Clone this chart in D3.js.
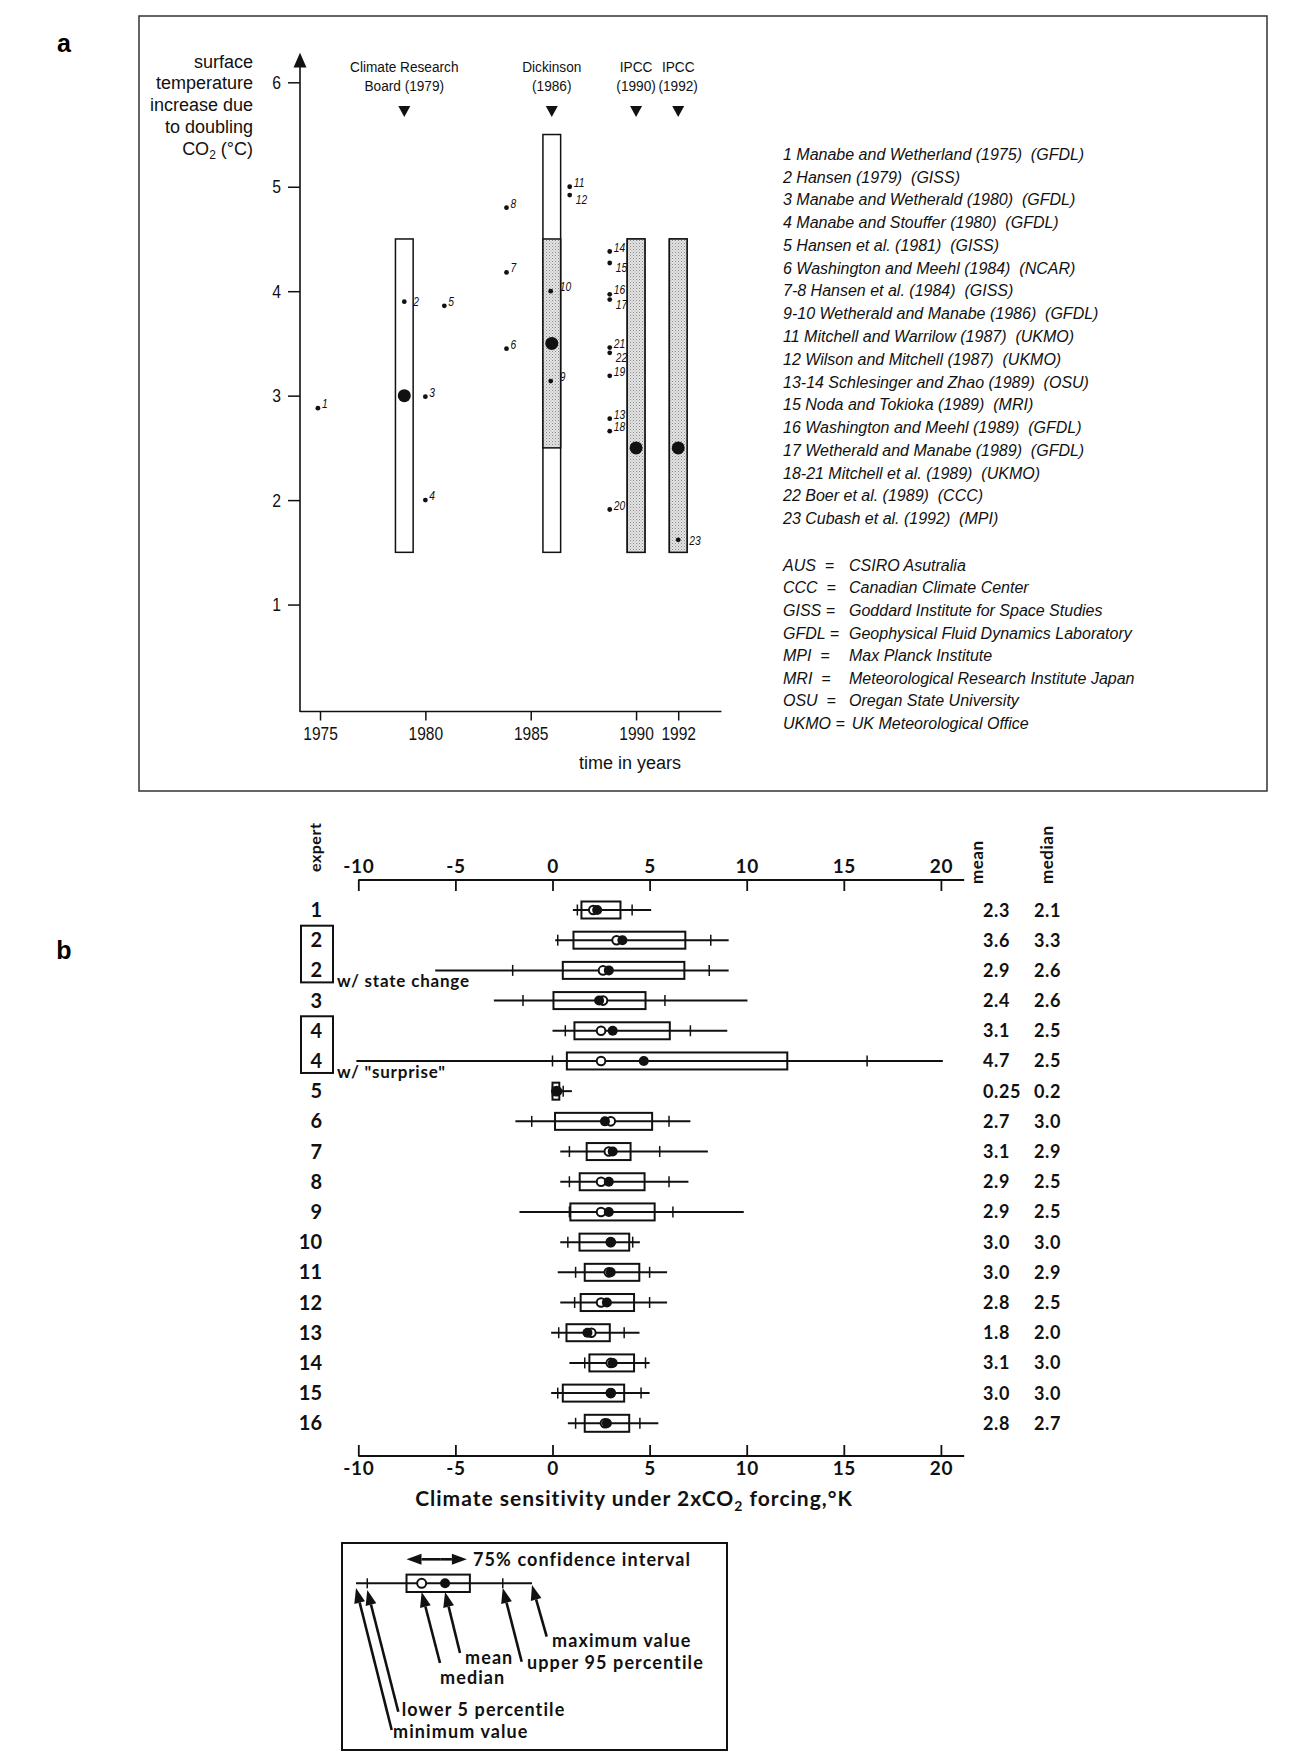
<!DOCTYPE html>
<html><head><meta charset="utf-8">
<script src="https://cdn.jsdelivr.net/npm/d3@7"></script>
<style>
body{margin:0;background:#fff;}
svg{display:block;}
</style></head><body>
<svg id="chart" width="1297" height="1758"></svg>
<script>
// ---------- Panel a data ----------
const assessYears = [1979, 1986, 1990, 1992];
const assessLine1 = ["Climate Research", "Dickinson", "IPCC", "IPCC"];
const assessLine2 = ["Board (1979)", "(1986)", "(1990)", "(1992)"];
const rangeLow = [1.5, 1.5, 1.5, 1.5];
const rangeHigh = [4.5, 5.5, 4.5, 4.5];
const shadedLow = [null, 2.5, 1.5, 1.5];
const shadedHigh = [null, 4.5, 4.5, 4.5];
const bestEstimate = [3.0, 3.5, 2.5, 2.5];

const modelIds = ["1","2","3","4","5","6","7","8","9","10","11","12","13","14","15","16","17","18","19","20","21","22","23"];
const modelYears = [1974.9,1979.0,1980.0,1980.0,1980.9,1983.85,1983.85,1983.85,1985.95,1985.95,1986.85,1986.85,1988.75,1988.75,1988.75,1988.75,1988.75,1988.75,1988.75,1988.75,1988.75,1988.75,1992.0];
const modelValues = [2.88,3.90,2.99,2.0,3.86,3.45,4.18,4.80,3.14,4.0,5.0,4.92,2.78,4.38,4.27,3.97,3.92,2.66,3.19,1.91,3.46,3.41,1.62];
const modelLabelPos = ["sup","right","sup","sup","sup","sup","sup","sup","rightUp","rightUp","sup","sub","sup","sup","sub","sup","sub","sup","sup","sup","sup","sub","rightLow"];

const yTicksA = [1,2,3,4,5,6];
const xTicksA = [1975,1980,1985,1990,1992];

const refList = [
 "1 Manabe and Wetherland (1975)  (GFDL)",
 "2 Hansen (1979)  (GISS)",
 "3 Manabe and Wetherald (1980)  (GFDL)",
 "4 Manabe and Stouffer (1980)  (GFDL)",
 "5 Hansen et al. (1981)  (GISS)",
 "6 Washington and Meehl (1984)  (NCAR)",
 "7-8 Hansen et al. (1984)  (GISS)",
 "9-10 Wetherald and Manabe (1986)  (GFDL)",
 "11 Mitchell and Warrilow (1987)  (UKMO)",
 "12 Wilson and Mitchell (1987)  (UKMO)",
 "13-14 Schlesinger and Zhao (1989)  (OSU)",
 "15 Noda and Tokioka (1989)  (MRI)",
 "16 Washington and Meehl (1989)  (GFDL)",
 "17 Wetherald and Manabe (1989)  (GFDL)",
 "18-21 Mitchell et al. (1989)  (UKMO)",
 "22 Boer et al. (1989)  (CCC)",
 "23 Cubash et al. (1992)  (MPI)"
];
const abbrevs = ["AUS","CCC","GISS","GFDL","MPI","MRI","OSU","UKMO"];
const abbrevDefs = ["CSIRO Asutralia","Canadian Climate Center","Goddard Institute for Space Studies","Geophysical Fluid Dynamics Laboratory","Max Planck Institute","Meteorological Research Institute Japan","Oregan State University","UK Meteorological Office"];

// ---------- Panel b data ----------
const experts = ["1","2","2","3","4","4","5","6","7","8","9","10","11","12","13","14","15","16"];
const minVals  = [1.05,0.14,-6.04,-3.02,0.0,-10.1,-0.05,-1.91,0.4,0.4,-1.7,0.4,0.27,0.4,-0.07,0.87,-0.07,0.79];
const p5Vals   = [1.28,0.27,-2.05,-1.52,0.66,0.0,0.0,-1.07,0.87,0.87,0.87,0.79,1.19,1.14,0.32,1.66,0.27,1.19];
const boxLo    = [1.49,1.08,0.53,0.05,1.13,0.74,0.0,0.13,1.76,1.4,0.92,1.39,1.66,1.45,0.72,1.9,0.53,1.66];
const boxHi    = [3.5,6.84,6.79,4.79,6.04,12.09,0.35,5.13,4.02,4.74,5.26,3.95,4.47,4.2,2.95,4.2,3.69,3.95];
const p95Vals  = [4.1,8.15,8.07,5.79,7.1,16.2,0.55,6.0,5.52,6.0,6.2,4.13,5.0,5.0,3.69,4.79,4.56,4.5];
const maxVals  = [5.08,9.07,9.07,10.04,9.0,20.1,1.0,7.1,8.0,7.0,9.85,4.5,5.9,5.9,4.48,5.0,5.0,5.45];
const meanText   = ["2.3","3.6","2.9","2.4","3.1","4.7","0.25","2.7","3.1","2.9","2.9","3.0","3.0","2.8","1.8","3.1","3.0","2.8"];
const medianText = ["2.1","3.3","2.6","2.6","2.5","2.5","0.2","3.0","2.9","2.5","2.5","3.0","2.9","2.5","2.0","3.0","3.0","2.7"];
const groupBrackets = [[1,2,"w/ state change"],[4,5,"w/ \"surprise\""]];
const tickB = [-10,-5,0,5,10,15,20];

// key (legend) sample values
const keyMin=0, keyP5=0.64, keyLo=2.87, keyHi=6.47, keyMedian=3.73, keyMean=5.06, keyP95=8.34, keyMax=10;

// ---------- drawing ----------
const ink = "#111";
const ARIAL = "'Liberation Sans',Arial,Helvetica,sans-serif";
const GILL = "Lato,'Open Sans',sans-serif";
const svg = d3.select("#chart");

// simulate a condensed Helvetica by compressing the glyph run
function condense(sel, f){
  sel.each(function(){
    const L = this.getComputedTextLength();
    if (L > 0){ this.setAttribute("textLength", (L*f).toFixed(2)); this.setAttribute("lengthAdjust","spacingAndGlyphs"); }
  });
  return sel;
}

const defs = svg.append("defs");
const pat = defs.append("pattern").attr("id","stip").attr("width",3).attr("height",3).attr("patternUnits","userSpaceOnUse");
pat.append("rect").attr("width",3).attr("height",3).attr("fill","#e4e4e4");
pat.append("rect").attr("x",0).attr("y",0).attr("width",1).attr("height",1).attr("fill","#8a8a8a");
pat.append("rect").attr("x",1.5).attr("y",1.5).attr("width",1).attr("height",1).attr("fill","#a8a8a8");

// panel letters
svg.append("text").attr("x",64).attr("y",52).attr("text-anchor","middle").attr("font-family",ARIAL).attr("font-weight","bold").attr("font-size",25).text("a");
svg.append("text").attr("x",64).attr("y",959).attr("text-anchor","middle").attr("font-family",ARIAL).attr("font-weight","bold").attr("font-size",25).text("b");

// panel a frame
svg.append("rect").attr("x",139).attr("y",16).attr("width",1128).attr("height",775).attr("fill","none").attr("stroke","#333").attr("stroke-width",1.5);

const xA = d3.scaleLinear().domain([1974.05,1994.05]).range([300,721.4]);
const yA = d3.scaleLinear().domain([0,6]).range([709,82.3]);
const gA = svg.append("g");

// y axis
const gy = gA.append("g").attr("transform","translate(300,0)")
  .call(d3.axisLeft(yA).tickValues(yTicksA).tickSize(12).tickPadding(7).tickFormat(d3.format("d")));
gy.select(".domain").remove();
gy.selectAll("line").attr("stroke",ink).attr("stroke-width",1.5);
condense(gy.selectAll("text").attr("font-family",ARIAL).attr("font-size",18.5).attr("fill",ink), 0.85);
gA.append("line").attr("x1",300).attr("x2",300).attr("y1",712).attr("y2",64).attr("stroke",ink).attr("stroke-width",1.6);
gA.append("path").attr("d",`M300,52.7 L293.5,67.5 L306.5,67.5 Z`).attr("fill",ink);

// x axis
const gx = gA.append("g").attr("transform","translate(0,711.5)")
  .call(d3.axisBottom(xA).tickValues(xTicksA).tickSize(9).tickPadding(6).tickFormat(d3.format("d")));
gx.select(".domain").remove();
gx.selectAll("line").attr("stroke",ink).attr("stroke-width",1.5);
condense(gx.selectAll("text").attr("font-family",ARIAL).attr("font-size",18.5).attr("fill",ink), 0.84);
gA.append("line").attr("x1",xA.range()[0]).attr("x2",xA.range()[1]).attr("y1",711.5).attr("y2",711.5).attr("stroke",ink).attr("stroke-width",1.6);
gA.append("text").attr("x",630).attr("y",768.5).attr("text-anchor","middle").attr("font-family",ARIAL).attr("font-size",18).attr("fill",ink).text("time in years");

// y title
const yTitle = ["surface","temperature","increase due","to doubling"];
yTitle.forEach((t,i)=>{
  gA.append("text").attr("x",253).attr("y",67.7+i*21.7).attr("text-anchor","end").attr("font-family",ARIAL).attr("font-size",18).attr("fill",ink).text(t);
});
const co2 = gA.append("text").attr("x",253).attr("y",67.7+4*21.7).attr("text-anchor","end").attr("font-family",ARIAL).attr("font-size",18).attr("fill",ink);
co2.append("tspan").text("CO");
co2.append("tspan").attr("font-size",12).attr("dy",4).text("2");
co2.append("tspan").attr("dy",-4).text(" (°C)");

// assessment bars
const halfW = 0.42;
assessYears.forEach((yr,i)=>{
  const x0 = xA(yr-halfW), x1 = xA(yr+halfW);
  gA.append("rect").attr("x",x0).attr("width",x1-x0).attr("y",yA(rangeHigh[i])).attr("height",yA(rangeLow[i])-yA(rangeHigh[i]))
    .attr("fill","#fff").attr("stroke",ink).attr("stroke-width",1.5);
  if(shadedLow[i]!==null){
    gA.append("rect").attr("x",x0).attr("width",x1-x0).attr("y",yA(shadedHigh[i])).attr("height",yA(shadedLow[i])-yA(shadedHigh[i]))
      .attr("fill","url(#stip)").attr("stroke",ink).attr("stroke-width",1.5);
  }
  gA.append("circle").attr("cx",xA(yr)).attr("cy",yA(bestEstimate[i])).attr("r",6.5).attr("fill",ink);
  const cx = xA(yr);
  condense(gA.append("text").attr("x",cx).attr("y",72).attr("text-anchor","middle").attr("font-family",ARIAL).attr("font-size",15.5).attr("fill",ink).text(assessLine1[i]), 0.88);
  condense(gA.append("text").attr("x",cx).attr("y",91).attr("text-anchor","middle").attr("font-family",ARIAL).attr("font-size",15.5).attr("fill",ink).text(assessLine2[i]), 0.88);
  gA.append("path").attr("d",`M${cx-6},106 L${cx+6},106 L${cx},117 Z`).attr("fill",ink);
});

// model points
const offs = {sup:[4,0], sub:[6,9], right:[9,4], rightUp:[9,0], rightLow:[11,5]};
modelIds.forEach((id,i)=>{
  const cx = xA(modelYears[i]), cy = yA(modelValues[i]);
  gA.append("circle").attr("cx",cx).attr("cy",cy).attr("r",2.4).attr("fill",ink);
  const o = offs[modelLabelPos[i]];
  condense(gA.append("text").attr("x",cx+o[0]).attr("y",cy+o[1]).attr("font-family",ARIAL).attr("font-style","italic").attr("font-size",12.5).attr("fill",ink).text(id), 0.82);
});

// reference list
refList.forEach((t,i)=>{
  gA.append("text").attr("x",783).attr("y",159.8+i*22.77).attr("font-family",ARIAL).attr("font-style","italic").attr("font-size",16)
    .attr("fill",ink).style("white-space","pre").text(t);
});
abbrevs.forEach((t,i)=>{
  const y = 570.8+i*22.6;
  const ab = gA.append("text").attr("x",783).attr("y",y).attr("font-family",ARIAL).attr("font-style","italic").attr("font-size",16)
    .attr("fill",ink).style("white-space","pre").text(t + (t.length < 4 ? "  =" : " ="));
  const w = ab.node().getComputedTextLength();
  gA.append("text").attr("x",Math.max(849, 783 + w + 7)).attr("y",y).attr("font-family",ARIAL).attr("font-style","italic").attr("font-size",16).attr("fill",ink).text(abbrevDefs[i]);
});

// ---------- panel b ----------
const xB = d3.scaleLinear().domain([-10,20]).range([358.3,940.9]);
const yB = d3.scalePoint().domain(d3.range(experts.length)).range([910,1423.3]);
const gB = svg.append("g");
const axisEnd = xB(21.2);

const gt = gB.append("g").attr("transform","translate(0,880)")
  .call(d3.axisTop(xB).tickValues(tickB).tickSize(-11).tickPadding(7).tickFormat(d=>String(d)));
gt.select(".domain").remove();
gt.selectAll("line").attr("stroke",ink).attr("stroke-width",1.8);
gt.selectAll("text").attr("font-family",GILL).attr("font-weight",700).attr("font-size",19).attr("letter-spacing",0.6).attr("fill",ink);
gB.append("line").attr("x1",xB(-10)).attr("x2",axisEnd).attr("y1",880).attr("y2",880).attr("stroke",ink).attr("stroke-width",2);

const gbx = gB.append("g").attr("transform","translate(0,1456)")
  .call(d3.axisBottom(xB).tickValues(tickB).tickSize(-11).tickPadding(6).tickFormat(d=>String(d)));
gbx.select(".domain").remove();
gbx.selectAll("line").attr("stroke",ink).attr("stroke-width",1.8);
gbx.selectAll("text").attr("font-family",GILL).attr("font-weight",700).attr("font-size",19).attr("letter-spacing",0.6).attr("fill",ink);
gB.append("line").attr("x1",xB(-10)).attr("x2",axisEnd).attr("y1",1456).attr("y2",1456).attr("stroke",ink).attr("stroke-width",2.2);

const xl = gB.append("text").attr("x",634).attr("y",1506).attr("text-anchor","middle").attr("font-family",GILL).attr("font-weight",700).attr("font-size",21).attr("letter-spacing",1).attr("fill",ink);
xl.append("tspan").text("Climate sensitivity under 2xCO");
xl.append("tspan").attr("font-size",14).attr("dy",5).text("2");
xl.append("tspan").attr("dy",-5).text(" forcing,°K");

// headers
gB.append("text").attr("transform","translate(321,872) rotate(-90)").attr("font-family",GILL).attr("font-weight",700).attr("font-size",16).attr("letter-spacing",0.5).attr("fill",ink).text("expert");
gB.append("text").attr("transform","translate(983,884) rotate(-90)").attr("font-family",GILL).attr("font-weight",700).attr("font-size",17).attr("letter-spacing",0.5).attr("fill",ink).text("mean");
gB.append("text").attr("transform","translate(1053,884) rotate(-90)").attr("font-family",GILL).attr("font-weight",700).attr("font-size",17).attr("letter-spacing",0.5).attr("fill",ink).text("median");

experts.forEach((e,i)=>{
  const y = yB(i);
  gB.append("text").attr("x",322).attr("y",y+7).attr("text-anchor","end").attr("font-family",GILL).attr("font-weight",700).attr("font-size",20).attr("fill",ink).text(e);
  gB.append("line").attr("x1",xB(minVals[i])).attr("x2",xB(maxVals[i])).attr("y1",y).attr("y2",y).attr("stroke",ink).attr("stroke-width",2);
  [p5Vals[i],p95Vals[i]].forEach(v=>{
    gB.append("line").attr("x1",xB(v)).attr("x2",xB(v)).attr("y1",y-5.5).attr("y2",y+5.5).attr("stroke",ink).attr("stroke-width",1.5);
  });
  gB.append("rect").attr("x",xB(boxLo[i])).attr("width",xB(boxHi[i])-xB(boxLo[i])).attr("y",y-8.5).attr("height",17)
    .attr("fill","none").attr("stroke",ink).attr("stroke-width",2);
  gB.append("circle").attr("cx",xB(+medianText[i])).attr("cy",y).attr("r",4.3).attr("fill","#fff").attr("stroke",ink).attr("stroke-width",2);
  gB.append("circle").attr("cx",xB(+meanText[i])).attr("cy",y).attr("r",5).attr("fill",ink);
  gB.append("text").attr("x",983).attr("y",y+6.5).attr("font-family",GILL).attr("font-weight",700).attr("font-size",18).attr("letter-spacing",0.6).attr("fill",ink).text(meanText[i]);
  gB.append("text").attr("x",1034).attr("y",y+6.5).attr("font-family",GILL).attr("font-weight",700).attr("font-size",18).attr("letter-spacing",0.6).attr("fill",ink).text(medianText[i]);
});
groupBrackets.forEach(([a,b,t])=>{
  gB.append("rect").attr("x",301).attr("y",yB(a)-14.5).attr("width",32).attr("height",yB(b)-yB(a)+26.5).attr("fill","none").attr("stroke",ink).attr("stroke-width",2);
  gB.append("text").attr("x",337).attr("y",yB(b)+17).attr("font-family",GILL).attr("font-weight",700).attr("font-size",17).attr("letter-spacing",0.8).attr("fill",ink).text(t);
});

// key box
gB.append("rect").attr("x",342).attr("y",1543).attr("width",385).attr("height",207).attr("fill","none").attr("stroke",ink).attr("stroke-width",2);
const xK = d3.scaleLinear().domain([0,10]).range([356,532]);
const yK = 1583.3;
gB.append("line").attr("x1",xK(keyMin)).attr("x2",xK(keyMax)).attr("y1",yK).attr("y2",yK).attr("stroke",ink).attr("stroke-width",2);
[keyP5,keyP95].forEach(v=>gB.append("line").attr("x1",xK(v)).attr("x2",xK(v)).attr("y1",yK-5).attr("y2",yK+5).attr("stroke",ink).attr("stroke-width",1.5));
gB.append("rect").attr("x",xK(keyLo)).attr("width",xK(keyHi)-xK(keyLo)).attr("y",yK-8.7).attr("height",17.4).attr("fill","none").attr("stroke",ink).attr("stroke-width",2);
gB.append("circle").attr("cx",xK(keyMedian)).attr("cy",yK).attr("r",4.5).attr("fill","#fff").attr("stroke",ink).attr("stroke-width",2);
gB.append("circle").attr("cx",xK(keyMean)).attr("cy",yK).attr("r",5).attr("fill",ink);

function arrow(x1,y1,x2,y2){ // tail -> tip
  const a = Math.atan2(y2-y1,x2-x1), L=15, w=5.5;
  const bx = x2 - L*Math.cos(a), by = y2 - L*Math.sin(a);
  gB.append("line").attr("x1",x1).attr("y1",y1).attr("x2",bx).attr("y2",by).attr("stroke",ink).attr("stroke-width",2.6);
  gB.append("path").attr("d",`M${x2},${y2} L${bx+w*Math.sin(a)},${by-w*Math.cos(a)} L${bx-w*Math.sin(a)},${by+w*Math.cos(a)} Z`).attr("fill",ink);
}
// 75% double arrow
const dY = 1559.3, mid = (xK(keyLo)+xK(keyHi))/2 + 2;
arrow(mid, dY, xK(keyLo), dY);
arrow(mid, dY, xK(keyHi)-3, dY);
gB.append("text").attr("x",473).attr("y",1566).attr("font-family",GILL).attr("font-weight",700).attr("font-size",18).attr("letter-spacing",1.1).attr("fill",ink).text("75% confidence interval");

const keyArrows = [
  [keyMin, 391.7,1730, 1588, "minimum value", 393, 1738],
  [keyP5, 398.3,1711.7, 1590, "lower 5 percentile", 401.7, 1716],
  [keyMedian, 440,1663, 1592, "median", 440, 1684],
  [keyMean, 460,1653, 1592, "mean", 465, 1664],
  [keyP95, 521.7,1661.7, 1588, "upper 95 percentile", 527, 1669],
  [keyMax, 546.7,1636.7, 1585, "maximum value", 552, 1647]
];
keyArrows.forEach(([v,tx,ty,tipY,label,lx,ly])=>{
  arrow(tx,ty,xK(v),tipY);
  gB.append("text").attr("x",lx).attr("y",ly).attr("font-family",GILL).attr("font-weight",700).attr("font-size",18).attr("letter-spacing",1.1).attr("fill",ink).text(label);
});
</script></body></html>
